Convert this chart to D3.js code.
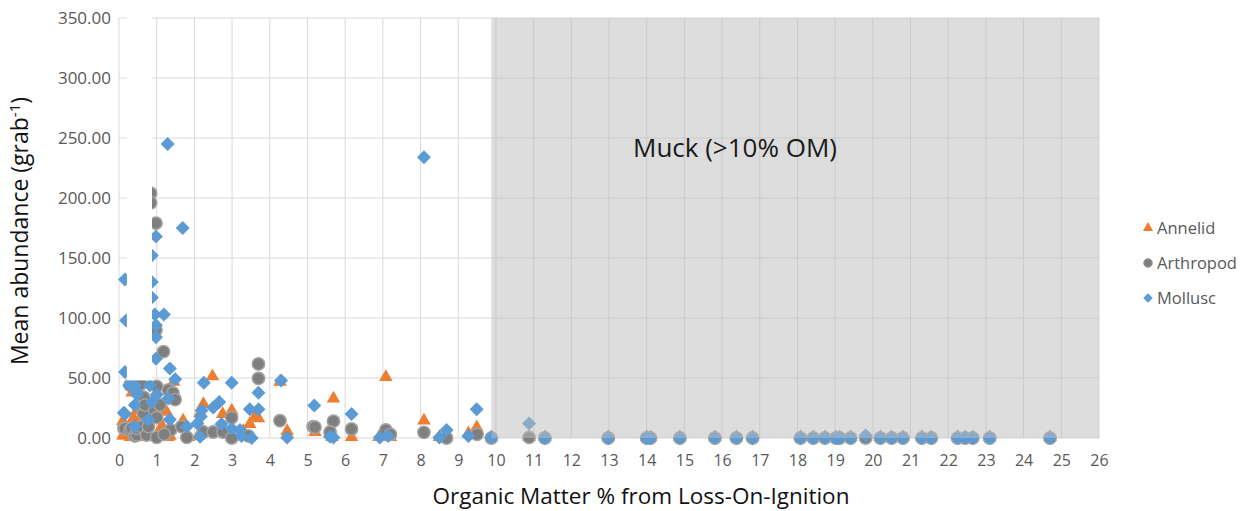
<!DOCTYPE html>
<html>
<head>
<meta charset="utf-8">
<script src="https://cdn.jsdelivr.net/npm/d3@7/dist/d3.min.js"></script>
<style>
  html, body { margin: 0; padding: 0; background: #fff; }
  svg { display: block; }
  text { font-family: "Open Sans", "Noto Sans", sans-serif; }
</style>
</head>
<body>
<svg id="chart" width="1251" height="511"></svg>
<script>
// Mean abundance per grab vs. organic matter (% LOI), by taxon
const annelid = [
  [0.11,1],[0.13,2.5],[0.1,13],[0.3,0],[0.38,15.5],[0.47,22],[0.35,37],[0.56,16.5],
  [0.6,0],[0.75,3],[0.85,0],[1.04,15],[1.09,6.7],[1.17,23],[1.26,21],[1.17,8],
  [1.35,1],[1.3,0],[1.45,46],[1.7,13.6],[1.85,0],[2.15,20],[2.24,27.5],[2.1,1],
  [2.48,50.5],[2.5,4],[2.75,19],[2.99,22],[3.0,0],[3.3,5],[3.47,10.8],[3.61,17],
  [3.7,15.5],[4.27,46],[4.46,5],[5.2,4],[5.69,32],[5.65,0],[6.17,0],[6.9,0],
  [7.08,50],[7.2,0],[8.09,13.6],[8.5,0],[9.27,3],[9.49,8],[9.88,0],[10.88,0]
];
const arthropod = [
  [0.13,8],[0.16,8],[0.29,6.7],[0.34,8],[0.29,44],[0.42,1.7],[0.48,2.5],[0.47,8],
  [0.58,45],[0.6,9.5],[0.65,34],[0.65,20.5],[0.69,27.5],[0.73,2.5],[0.78,9.5],
  [0.84,204],[0.84,196],[0.95,23],[0.98,179],[0.98,90],[1.0,43],[1.0,17],[1.0,0.5],
  [1.09,27.5],[1.18,72],[1.31,40],[1.43,37.5],[1.49,32],[1.37,6.7],[1.66,9.5],
  [1.8,0.5],[1.2,3],[2.24,5],[2.5,5],[2.76,5],[2.99,17],[2.99,0],[3.43,1.7],
  [3.7,61.7],[3.7,49.7],[4.27,14.4],[5.15,9.4],[5.2,9],[5.69,14],[5.6,5],[6.17,7.5],
  [7.08,6.7],[7.2,3],[8.09,4.7],[8.69,0],[9.5,3],[9.88,0],[10.88,0.5]
];
const mollusc = [
  [0.16,132],[0.19,98],[0.16,55],[0.13,21],[0.16,20],[0.27,44],[0.42,44],[0.47,38.6],
  [0.48,36],[0.42,27.5],[0.42,9.5],[0.78,15.5],[0.82,44],[0.87,152],[0.87,130],
  [0.87,117],[0.87,30],[0.95,103],[1.19,103],[0.98,94],[0.98,84],[0.98,66],[0.98,168],
  [1.0,36],[1.29,245],[1.31,33],[1.35,58],[1.35,15.5],[1.49,49],[1.69,175],[1.8,9.5],
  [2.08,12],[2.15,1],[2.17,18],[2.19,23],[2.25,46],[2.5,25.5],[2.66,30],[2.72,11.7],
  [2.99,46],[2.99,8],[3.21,6.7],[3.25,1.7],[3.52,0],[3.47,24],[3.7,24],[3.7,37.8],
  [4.3,48],[4.46,0.5],[5.18,27],[5.6,1],[5.69,0.5],[6.17,20],[6.92,0.5],[7.14,1.7],
  [8.09,234],[8.5,0.5],[8.69,6.7],[9.27,1.7],[9.49,24],[9.88,0.5],[10.88,12]
];
// Muck sites (>10% OM): organic matter and abundance per taxon
const muckOM        = [11.3,12.98,14.0,14.1,14.88,15.81,16.38,16.81,18.08,18.42,18.73,19.02,19.12,19.41,19.81,20.2,20.5,20.8,21.3,21.55,22.25,22.45,22.65,23.1,24.7];
const muckAnnelid   = [0,0,0,0,0,0,0,0,0,0,0,0,0,0,0,0,0,0,0,0,0,0,0,0,0];
const muckArthropod = [0,0,0,0,0,0,0,0,0,0,0,0,0,0,0,0,0,0,0,0,0,0,0,0,0];
const muckMollusc   = [0,0,0,0,0,0,0,0,0,0,0,0,0,0,2,0,0,0,0,0,0,0,0,0,0];

const xTicks = d3.range(0, 27, 1);
const yTicks = [0, 50, 100, 150, 200, 250, 300, 350];
const seriesNames = ["Annelid", "Arthropod", "Mollusc"];
const muckStart = 9.88;
const muckLabel = "Muck (>10% OM)";
// blank panel laid over part of the low-OM cluster
const maskOM = [0.21, 0.875];
const maskAbundance = [48, 350];

const svg = d3.select("#chart");
const x = d3.scaleLinear().domain([0, 26]).range([119, 1099]);
const y = d3.scaleLinear().domain([0, 350]).range([438, 18]);

// gridlines
const grid = svg.append("g");
grid.selectAll("line.v").data(xTicks).join("line")
  .attr("x1", d => x(d)).attr("x2", d => x(d))
  .attr("y1", y(350)).attr("y2", y(0))
  .attr("stroke", "#d9d9d9").attr("stroke-width", 1);
grid.selectAll("line.h").data(yTicks).join("line")
  .attr("x1", x(0)).attr("x2", x(26))
  .attr("y1", d => y(d)).attr("y2", d => y(d))
  .attr("stroke", "#d9d9d9").attr("stroke-width", 1);

// axes (labels only, Excel-style)
const xAxis = svg.append("g").attr("transform", `translate(0,${y(0)})`)
  .call(d3.axisBottom(x).tickValues(xTicks).tickFormat(d3.format("d")).tickSize(0).tickPadding(17));
const yAxis = svg.append("g").attr("transform", `translate(${x(0)},0)`)
  .call(d3.axisLeft(y).tickValues(yTicks).tickFormat(d3.format(".2f")).tickSize(0).tickPadding(8));
[xAxis, yAxis].forEach(a => {
  a.select(".domain").remove();
  a.selectAll("text").attr("fill", "#595959")
    .style("font-family", '"Open Sans", sans-serif');
});
xAxis.selectAll("text").style("font-size", "16px");
yAxis.selectAll("text").style("font-size", "17px");

const colors = { Annelid: "#ed7d31", Arthropod: "#7f7f7f", Mollusc: "#5b9bd5" };
const triangle = d3.symbol().type(d3.symbolTriangle).size(80);
const circle = d3.symbol().type(d3.symbolCircle).size(120);
const square = d3.symbol().type(d3.symbolSquare).size(98);

const withMuck = (pts, vals) => pts.concat(muckOM.map((m, i) => [m, vals[i]]));
const annelidAll = withMuck(annelid, muckAnnelid);
const arthropodAll = withMuck(arthropod, muckArthropod);
const molluscAll = withMuck(mollusc, muckMollusc);

const marks = svg.append("g");
marks.append("g").selectAll("path").data(annelidAll).join("path")
  .attr("d", triangle)
  .attr("transform", d => `translate(${x(d[0])},${y(d[1]) - 1})`)
  .attr("fill", colors.Annelid);
marks.append("g").selectAll("path").data(arthropodAll).join("path")
  .attr("d", circle)
  .attr("transform", d => `translate(${x(d[0])},${y(d[1])})`)
  .attr("fill", colors.Arthropod).attr("stroke", "#a3a3a3").attr("stroke-width", 1.5);
marks.append("g").selectAll("path").data(molluscAll).join("path")
  .attr("d", square)
  .attr("transform", d => `translate(${x(d[0])},${y(d[1])}) rotate(45)`)
  .attr("fill", colors.Mollusc);

// blank panel
svg.append("rect")
  .attr("x", x(maskOM[0])).attr("width", x(maskOM[1]) - x(maskOM[0]))
  .attr("y", y(maskAbundance[1]) - 1).attr("height", y(maskAbundance[0]) - y(maskAbundance[1]) + 1)
  .attr("fill", "#fff");

// muck zone shading (translucent, over the marks)
svg.append("rect")
  .attr("x", x(muckStart)).attr("width", x(26) - x(muckStart))
  .attr("y", y(350)).attr("height", y(0) - y(350))
  .attr("fill", "#bcbcbc").attr("fill-opacity", 0.5);

svg.append("text")
  .attr("x", 735).attr("y", 157)
  .attr("text-anchor", "middle")
  .attr("fill", "#1a1a1a").style("font-size", "26px")
  .text(muckLabel);

// axis titles
svg.append("text")
  .attr("x", 641).attr("y", 504)
  .attr("text-anchor", "middle").attr("fill", "#111")
  .style("font-size", "22.5px")
  .text("Organic Matter % from Loss-On-Ignition");

const yt = svg.append("text")
  .attr("transform", `translate(28,231) rotate(-90)`)
  .attr("text-anchor", "middle").attr("fill", "#111")
  .style("font-size", "23px");
yt.append("tspan").text("Mean abundance (grab");
yt.append("tspan").attr("dy", -8).style("font-size", "15px").text("-1");
yt.append("tspan").attr("dy", 8).text(")");

// legend
const legend = svg.append("g");
const legSyms = [
  d3.symbol().type(d3.symbolTriangle).size(45),
  d3.symbol().type(d3.symbolCircle).size(60),
  d3.symbol().type(d3.symbolSquare).size(45)
];
seriesNames.forEach((name, i) => {
  const ly = 228 + i * 35;
  legend.append("path")
    .attr("d", legSyms[i])
    .attr("transform", `translate(1148,${ly})` + (i === 2 ? " rotate(45)" : ""))
    .attr("fill", colors[name])
    .attr("stroke", i === 1 ? "#a3a3a3" : "none");
  legend.append("text")
    .attr("x", 1157).attr("y", ly + 6)
    .attr("fill", "#595959").style("font-size", "16.5px")
    .text(name);
});
</script>
</body>
</html>
